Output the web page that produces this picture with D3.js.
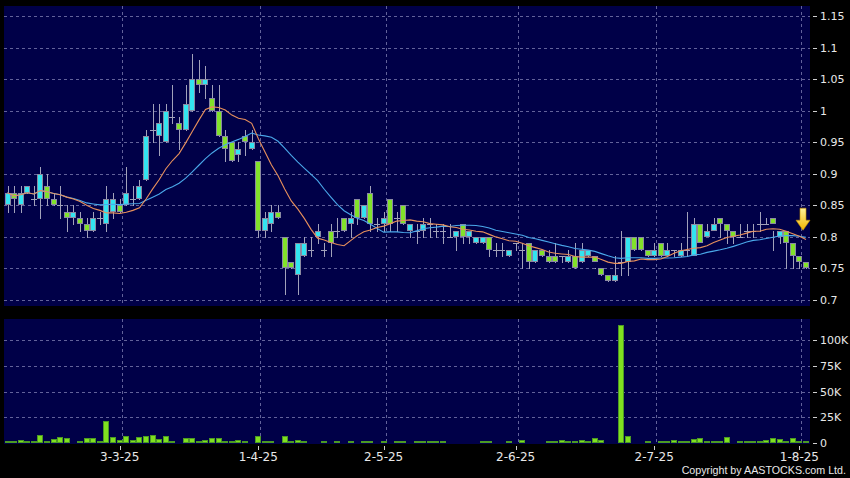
<!DOCTYPE html>
<html><head><meta charset="utf-8">
<script src="https://cdn.jsdelivr.net/npm/d3@7/dist/d3.min.js"></script>
<style>html,body{margin:0;padding:0;background:#000;}svg{display:block}</style>
</head><body>
<svg id="c" width="850" height="478"></svg>
<script>
// ---------- DATA ----------
const dates = [
"2025-02-06","2025-02-07","2025-02-10","2025-02-11","2025-02-12","2025-02-13","2025-02-14","2025-02-17","2025-02-18","2025-02-19","2025-02-20","2025-02-21","2025-02-24","2025-02-25","2025-02-26","2025-02-27","2025-02-28",
"2025-03-03","2025-03-04","2025-03-05","2025-03-06","2025-03-07","2025-03-10","2025-03-11","2025-03-12","2025-03-13","2025-03-14","2025-03-17","2025-03-18","2025-03-19","2025-03-20","2025-03-21","2025-03-24","2025-03-25","2025-03-26","2025-03-27","2025-03-28","2025-03-31",
"2025-04-01","2025-04-02","2025-04-03","2025-04-07","2025-04-08","2025-04-09","2025-04-10","2025-04-11","2025-04-14","2025-04-15","2025-04-16","2025-04-17","2025-04-22","2025-04-23","2025-04-24","2025-04-25","2025-04-28","2025-04-29","2025-04-30",
"2025-05-02","2025-05-06","2025-05-07","2025-05-08","2025-05-09","2025-05-12","2025-05-13","2025-05-14","2025-05-15","2025-05-16","2025-05-19","2025-05-20","2025-05-21","2025-05-22","2025-05-23","2025-05-26","2025-05-27","2025-05-28","2025-05-29","2025-05-30",
"2025-06-02","2025-06-03","2025-06-04","2025-06-05","2025-06-06","2025-06-09","2025-06-10","2025-06-11","2025-06-12","2025-06-13","2025-06-16","2025-06-17","2025-06-18","2025-06-19","2025-06-20","2025-06-23","2025-06-24","2025-06-25","2025-06-26","2025-06-27","2025-06-30",
"2025-07-02","2025-07-03","2025-07-04","2025-07-07","2025-07-08","2025-07-09","2025-07-10","2025-07-11","2025-07-14","2025-07-15","2025-07-16","2025-07-17","2025-07-18","2025-07-21","2025-07-22","2025-07-23","2025-07-24","2025-07-25","2025-07-28","2025-07-29","2025-07-30","2025-07-31",
"2025-08-01","2025-08-04"];

const open = [
.85,.87,.85,.87,.86,.86,.88,.86,.85,.84,.83,.83,.82,.81,.83,.82,.84,
.85,.85,.86,.86,.89,.97,.96,.95,.99,.98,.97,1.00,1.05,1.04,1.02,1.00,.96,.95,.93,.96,.94,
.92,.81,.82,.84,.80,.76,.74,.77,.78,.80,.78,.81,.81,.83,.82,.86,.83,.87,.82,
.82,.86,.83,.85,.81,.81,.81,.82,.81,.81,.80,.80,.82,.80,.79,.79,.80,.78,.78,.77,
.79,.78,.79,.76,.78,.77,.77,.77,.76,.77,.76,.77,.77,.75,.74,.73,.76,.76,.80,.80,.78,
.77,.79,.77,.78,.77,.78,.77,.82,.80,.81,.83,.82,.81,.80,.81,.81,.82,.82,.83,.80,.81,.79,.77,
.76,.76];
const high = [
.88,.88,.88,.88,.88,.91,.90,.87,.88,.85,.85,.84,.83,.84,.84,.88,.87,
.86,.91,.88,.89,.97,1.01,1.01,1.01,1.04,.99,1.04,1.09,1.08,1.07,1.04,1.04,.97,.95,.95,.97,.97,
.92,.84,.85,.85,.80,.76,.79,.80,.80,.82,.79,.82,.83,.83,.84,.86,.85,.88,.83,
.84,.86,.84,.85,.82,.82,.83,.83,.82,.82,.82,.81,.82,.81,.80,.80,.80,.79,.79,.78,
.79,.79,.79,.78,.78,.78,.79,.77,.78,.79,.79,.77,.75,.74,.74,.77,.81,.80,.80,.79,.78,
.79,.79,.79,.78,.79,.84,.83,.81,.82,.83,.82,.81,.81,.82,.82,.82,.84,.83,.81,.81,.79,.77,
.76,.76];
const low = [
.84,.84,.84,.87,.85,.83,.85,.85,.83,.81,.82,.81,.80,.81,.82,.81,.83,
.84,.85,.85,.86,.89,.95,.93,.95,.98,.94,.97,1.00,1.03,1.02,1.00,.96,.92,.92,.92,.93,.94,
.80,.80,.81,.83,.71,.75,.71,.77,.77,.79,.77,.77,.80,.81,.80,.82,.83,.81,.81,
.81,.81,.81,.82,.80,.79,.80,.80,.80,.79,.80,.78,.79,.79,.79,.79,.77,.77,.77,.77,
.78,.75,.75,.76,.77,.76,.76,.76,.76,.75,.76,.77,.75,.74,.73,.73,.74,.74,.78,.78,.77,
.77,.77,.77,.77,.77,.77,.79,.80,.81,.82,.80,.79,.79,.80,.80,.80,.81,.82,.78,.79,.75,.75,
.75,.75];
const close = [
.87,.86,.87,.88,.86,.90,.86,.85,.85,.83,.84,.82,.81,.83,.83,.86,.86,
.84,.87,.86,.88,.96,.97,.98,1.00,.99,.97,1.01,1.05,1.04,1.05,1.00,.96,.94,.92,.94,.95,.95,
.81,.83,.84,.83,.75,.75,.79,.79,.78,.81,.78,.79,.81,.81,.83,.83,.85,.82,.82,
.83,.82,.83,.82,.82,.81,.82,.82,.81,.81,.80,.81,.80,.81,.80,.80,.78,.78,.78,.78,
.79,.78,.76,.78,.77,.76,.76,.77,.77,.75,.78,.78,.76,.74,.73,.74,.76,.80,.78,.78,.77,
.78,.77,.78,.78,.78,.78,.82,.79,.81,.82,.82,.81,.80,.80,.81,.81,.82,.82,.82,.81,.79,.77,
.76,.75];
// volume in thousands of shares
const volume = [
1.3,0.6,2,1,1,7,1,3,5,4,0.3,1.3,4,3.5,1,20,5,
1.6,6,2,4.5,6,7,2.6,5.5,1.3,0.3,4,3.5,1,1.6,4,4,1,1,1.6,1,0.3,
6,1.3,1,0.3,5.5,0.6,2.3,1.3,0.3,0.3,0.6,0.3,1.3,0.3,1.3,0.3,1.3,1,0.3,
0.6,0.3,0.6,1,0.3,1.3,1,0.6,0.6,1,0.3,0.3,0.3,0.3,0.3,0.6,1,0.3,0.3,1,
0.3,1.6,0.3,0.3,0.3,1,1,1.6,1.3,1.3,1.6,1,4.2,2.3,0.3,0.3,114,6,0.3,0.3,1,
0.3,0.6,0.6,1.6,0.6,0.6,3.2,4.2,1.3,1,0.6,5,0.3,1,1,1,1.3,1.6,4,3,1,3.5,0.6,
0.6,0.6];

const priceTicks = [0.7,0.75,0.8,0.85,0.9,0.95,1,1.05,1.1,1.15];
const priceTickLabels = ["0.7","0.75","0.8","0.85","0.9","0.95","1","1.05","1.1","1.15"];
const volTicks = [0,25,50,75,100];
const volTickLabels = ["0","25K","50K","75K","100K"];
const dateTicks = ["2025-03-03","2025-04-01","2025-05-02","2025-06-02","2025-07-02","2025-08-01"];
const dateTickLabels = ["3-3-25","1-4-25","2-5-25","2-6-25","2-7-25","1-8-25"];
const maPeriods = [10,20];

// ---------- LAYOUT ----------
const svg = d3.select("#c");
const P = {x0:4, x1:810, y0:6, y1:306};
const V = {y0:319, y1:444};
const NAVY = "#000048", GRID = "#62629a", TXT = "#e8e8e8";
const UP = "#33e4f0", DOWN = "#82e22a", VOL = "#80e020";
const FONT = "DejaVu Sans, Verdana, sans-serif";

svg.append("rect").attr("width",850).attr("height",478).attr("fill","#000");
svg.append("rect").attr("x",P.x0).attr("y",P.y0).attr("width",P.x1-P.x0).attr("height",P.y1-P.y0).attr("fill",NAVY);
svg.append("rect").attr("x",P.x0).attr("y",V.y0).attr("width",P.x1-P.x0).attr("height",V.y1-V.y0).attr("fill",NAVY);

const x = d3.scalePoint().domain(dates).range([7.5, 806]);
const y = d3.scaleLinear().domain([0.7,1.15]).range([300,16]);
const yv = d3.scaleLinear().domain([0,100]).range([443,340]);
const px = v => Math.round(v) + 0.5;

const data = dates.map((d,i)=>({d, o:open[i], h:high[i], l:low[i], c:close[i], v:volume[i]}));

// ---------- GRID ----------
const g = svg.append("g").attr("shape-rendering","crispEdges");
g.selectAll(".hg").data(priceTicks).join("line")
  .attr("x1",P.x0).attr("x2",P.x1).attr("y1",t=>px(y(t))).attr("y2",t=>px(y(t)))
  .attr("stroke",GRID).attr("stroke-dasharray","3,3");
g.selectAll(".vg").data(volTicks.filter(t=>t>0)).join("line")
  .attr("x1",P.x0).attr("x2",P.x1).attr("y1",t=>px(yv(t))).attr("y2",t=>px(yv(t)))
  .attr("stroke",GRID).attr("stroke-dasharray","3,3");
dateTicks.forEach(dt=>{
  const xx = px(x(dt)+2);
  g.append("line").attr("x1",xx).attr("x2",xx).attr("y1",P.y0).attr("y2",P.y1)
    .attr("stroke",GRID).attr("stroke-dasharray","3,3");
  g.append("line").attr("x1",xx).attr("x2",xx).attr("y1",V.y0).attr("y2",V.y1)
    .attr("stroke",GRID).attr("stroke-dasharray","3,3");
});

// ---------- MOVING AVERAGES (computed from closes) ----------
function sma(n){ return close.map((_,i)=>{ const s=close.slice(Math.max(0,i-n+1),i+1); return d3.mean(s); }); }
const ma10 = sma(maPeriods[0]), ma20 = sma(maPeriods[1]);

// ---------- CANDLES ----------
const cg = svg.append("g").attr("shape-rendering","crispEdges");
cg.selectAll(".wick").data(data).join("line")
  .attr("x1",d=>px(x(d.d))).attr("x2",d=>px(x(d.d)))
  .attr("y1",d=>Math.round(y(d.h))).attr("y2",d=>Math.round(y(d.l))+1)
  .attr("stroke","#a2a2ba");
cg.selectAll(".box").data(data.filter(d=>d.o!==d.c)).join("rect")
  .attr("x",d=>Math.round(x(d.d))-3+0.5).attr("width",5)
  .attr("y",d=>Math.round(y(Math.max(d.o,d.c)))+0.5)
  .attr("height",d=>Math.max(1,Math.round(y(Math.min(d.o,d.c)))-Math.round(y(Math.max(d.o,d.c)))-1))
  .attr("fill",d=>d.c>d.o?UP:DOWN).attr("stroke","#8a8aa2");
cg.selectAll(".doji").data(data.filter(d=>d.o===d.c)).join("line")
  .attr("x1",d=>Math.round(x(d.d))-3).attr("x2",d=>Math.round(x(d.d))+3)
  .attr("y1",d=>px(y(d.c))).attr("y2",d=>px(y(d.c)))
  .attr("stroke","#a2a2ba");

// MA lines
const line = arr => d3.line().x((d,i)=>x(dates[i])).y(d=>y(d))(arr);
svg.append("path").attr("d",line(ma20)).attr("fill","none").attr("stroke","#4aa8ea").attr("stroke-width",1.1);
svg.append("path").attr("d",line(ma10)).attr("fill","none").attr("stroke","#e8905c").attr("stroke-width",1.1);

// ---------- VOLUME ----------
svg.append("g").attr("shape-rendering","crispEdges")
  .selectAll("rect").data(data).join("rect")
  .attr("x",d=>Math.round(x(d.d))-3+0.5).attr("width",5)
  .attr("y",d=>Math.round(yv(d.v))-0.5)
  .attr("height",d=>Math.max(0,Math.round(yv(0))-Math.round(yv(d.v))))
  .attr("fill",VOL).attr("stroke","#4c9a24");

// ---------- ARROW (last bar marker) ----------
const defs = svg.append("defs");
const grad = defs.append("linearGradient").attr("id","ag").attr("x1",0).attr("x2",0).attr("y1",0).attr("y2",1);
grad.append("stop").attr("offset","0%").attr("stop-color","#fff39a");
grad.append("stop").attr("offset","100%").attr("stop-color","#f2b400");
const lastX = x(dates[dates.length-1]) - 3;
const tipY = y(ma20[ma20.length-1]) - 7;
svg.append("path")
  .attr("d",`M${lastX-3},${tipY-22} L${lastX+3},${tipY-22} L${lastX+3},${tipY-10} L${lastX+7},${tipY-10} L${lastX},${tipY} L${lastX-7},${tipY-10} L${lastX-3},${tipY-10} Z`)
  .attr("fill","url(#ag)").attr("stroke","#c89000").attr("stroke-width",0.6);

// ---------- AXES ----------
const ax = svg.append("g").attr("shape-rendering","crispEdges");
priceTicks.forEach((t,i)=>{
  const yy = px(y(t));
  ax.append("line").attr("x1",813).attr("x2",817).attr("y1",yy).attr("y2",yy).attr("stroke","#cfcfcf");
  svg.append("text").attr("x",820).attr("y",y(t)+4).attr("fill",TXT)
    .attr("font-family",FONT).attr("font-size",11).text(priceTickLabels[i]);
});
volTicks.forEach((t,i)=>{
  const yy = px(yv(t));
  ax.append("line").attr("x1",813).attr("x2",817).attr("y1",yy).attr("y2",yy).attr("stroke","#cfcfcf");
  svg.append("text").attr("x",820).attr("y",yv(t)+4).attr("fill",TXT)
    .attr("font-family",FONT).attr("font-size",11).text(volTickLabels[i]);
});
dateTicks.forEach((dt,i)=>{
  const xx = px(x(dt));
  ax.append("line").attr("x1",xx).attr("x2",xx).attr("y1",446).attr("y2",450).attr("stroke","#cfcfcf");
  svg.append("text").attr("x",x(dt)).attr("y",461).attr("text-anchor","middle").attr("fill",TXT)
    .attr("font-family",FONT).attr("font-size",12).text(dateTickLabels[i]);
});
svg.append("text").attr("x",846).attr("y",474).attr("text-anchor","end").attr("fill",TXT)
  .attr("font-family","Liberation Sans, Arial, sans-serif").attr("font-size",10.7)
  .text("Copyright by AASTOCKS.com Ltd.");
</script>
</body></html>
